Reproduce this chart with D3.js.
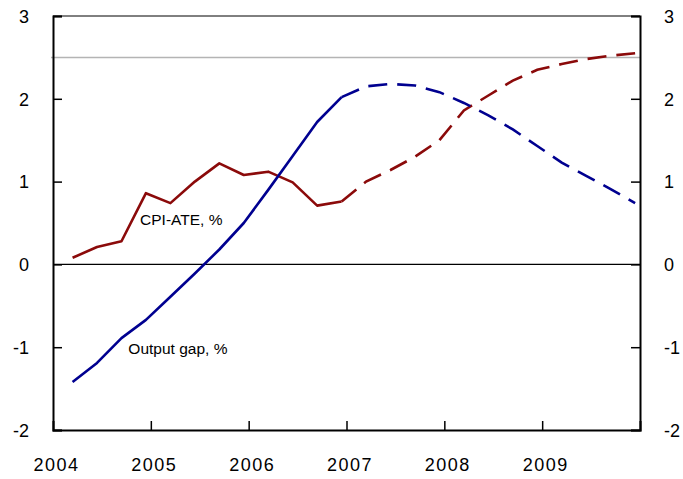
<!DOCTYPE html>
<html>
<head>
<meta charset="utf-8">
<script src="https://cdn.jsdelivr.net/npm/d3@7"></script>
<style>
  body { margin: 0; background: #fff; }
  svg text { font-family: "Liberation Sans", Arial, sans-serif; fill: #000; }
</style>
</head>
<body>
<svg class="line-chart"></svg>
<script>
// quarterly observations, forecast begins after 2006Q4
const quarters = [
  "2004Q1", "2004Q2", "2004Q3", "2004Q4",
  "2005Q1", "2005Q2", "2005Q3", "2005Q4",
  "2006Q1", "2006Q2", "2006Q3", "2006Q4",
  "2007Q1", "2007Q2", "2007Q3", "2007Q4",
  "2008Q1", "2008Q2", "2008Q3", "2008Q4",
  "2009Q1", "2009Q2", "2009Q3", "2009Q4"
];
const cpiAte = [
  0.08, 0.21, 0.28, 0.86, 0.74, 1.0, 1.22, 1.08, 1.12, 0.99, 0.71, 0.76,
  1.0, 1.14, 1.3, 1.5, 1.86, 2.04, 2.22, 2.35, 2.42, 2.48, 2.52, 2.55
];
const outputGap = [
  -1.42, -1.19, -0.89, -0.67, -0.39, -0.11, 0.18, 0.5, 0.9, 1.31, 1.72, 2.02,
  2.15, 2.18, 2.16, 2.08, 1.95, 1.8, 1.63, 1.43, 1.23, 1.07, 0.91, 0.74
];
const forecastFrom = "2006Q4";
const yearTicks = [2004, 2005, 2006, 2007, 2008, 2009];
const yTicks = [-2, -1, 0, 1, 2, 3];
const refLevel = 2.5;
const seriesLabels = ["CPI-ATE, %", "Output gap, %"];

const W = 683, H = 479;
const margin = { top: 16, right: 43, bottom: 49, left: 53 };
const width = W - margin.left - margin.right;
const height = H - margin.top - margin.bottom;

const toYear = q => +q.slice(0, 4) + (+q.slice(5) - 1) * 0.25 + 0.2;

const xScale = d3.scaleLinear().domain([2004, 2010]).range([0, width]);
const yScale = d3.scaleLinear().domain([-2, 3]).range([height, 0]);

const svg = d3.select("svg.line-chart").attr("width", W).attr("height", H);
const g = svg.append("g").attr("transform", `translate(${margin.left},${margin.top})`);

// reference line at 2.5
g.append("line")
  .attr("x1", -2).attr("x2", width)
  .attr("y1", yScale(refLevel)).attr("y2", yScale(refLevel))
  .attr("stroke", "#b4b4b4").attr("stroke-width", 1.5);

// zero line
g.append("line")
  .attr("x1", 0).attr("x2", width)
  .attr("y1", yScale(0)).attr("y2", yScale(0))
  .attr("stroke", "#000").attr("stroke-width", 1.2);

// frame top
g.append("line")
  .attr("x1", 0).attr("x2", width)
  .attr("y1", 0).attr("y2", 0)
  .attr("stroke", "#000").attr("stroke-width", 1);

const plain = d => String(d);

const axisFont = sel => {
  sel.selectAll("text").style("font-size", "18px");
  sel.selectAll("line").attr("stroke", "#000").attr("stroke-width", 1.5);
  sel.select(".domain").attr("stroke", "#000").attr("stroke-width", 2);
};

g.append("g")
  .call(d3.axisLeft(yScale).tickValues(yTicks).tickSize(-9).tickPadding(24).tickFormat(plain))
  .call(axisFont)
  .call(s => s.selectAll("text").attr("dy", "0.35em"));

g.append("g")
  .attr("transform", `translate(${width},0)`)
  .call(d3.axisRight(yScale).tickValues(yTicks).tickSize(-9).tickPadding(24).tickFormat(plain))
  .call(axisFont)
  .call(s => s.selectAll("text").attr("dy", "0.35em"));

g.append("g")
  .attr("transform", `translate(0,${height})`)
  .call(d3.axisBottom(xScale).tickValues(yearTicks).tickSize(-9).tickPadding(28).tickFormat(plain))
  .call(axisFont)
  .call(s => s.selectAll("text").attr("dx", "3").style("letter-spacing", "1.5px"))
  .call(s => s.selectAll(".tick line").filter(d => d === 2004).remove());

// series
const fIdx = quarters.indexOf(forecastFrom);
const line = d3.line().x(d => xScale(d.x)).y(d => yScale(d.y));

const drawSeries = (values, color) => {
  const pts = quarters.map((q, i) => ({ x: toYear(q), y: values[i] }));
  g.append("path")
    .attr("d", line(pts.slice(0, fIdx + 1)))
    .attr("fill", "none").attr("stroke", color).attr("stroke-width", 2.6)
    .attr("stroke-linejoin", "round");
  g.append("path")
    .attr("d", line(pts.slice(fIdx)))
    .attr("fill", "none").attr("stroke", color).attr("stroke-width", 2.6)
    .attr("stroke-dasharray", "19,10");
};

drawSeries(cpiAte, "#8b0a0a");
drawSeries(outputGap, "#000090");

// labels
g.append("text")
  .attr("x", xScale(2004.89)).attr("y", yScale(0.47))
  .style("font-size", "15.5px")
  .text(seriesLabels[0]);

g.append("text")
  .attr("x", xScale(2004.77)).attr("y", yScale(-1.08))
  .style("font-size", "15.5px")
  .text(seriesLabels[1]);
</script>
</body>
</html>
